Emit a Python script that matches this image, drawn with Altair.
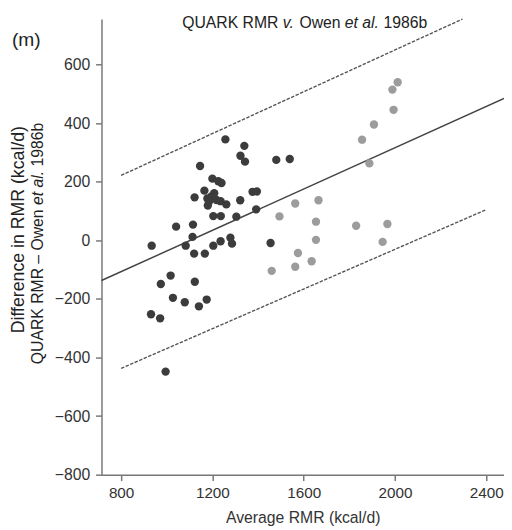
import altair as alt
import pandas as pd

FONT = "Liberation Sans"

# ---- data ----
dark_x = [1257, 1340, 1323, 1343, 1480, 1539, 1146, 1200, 1226, 1240, 1165, 1208, 1122,
          1178, 1197, 1185, 1180, 1218, 1236, 1261, 1322, 1376, 1395, 1392, 1204, 1237,
          1305, 1041, 1115, 1113, 934, 1083, 1204, 1236, 1279, 1286, 1455, 1120, 1167,
          1017, 974, 1123, 1027, 1079, 1141, 1175, 931, 971, 995]
dark_y = [345, 323, 289, 269, 275, 278, 254, 211, 202, 196, 170, 161, 147,
          143, 151, 132, 119, 138, 134, 123, 137, 166, 167, 106, 83, 83,
          81, 47, 54, 12, -18, -18, -18, -3, 9, -11, -9, -45, -45,
          -120, -149, -141, -196, -211, -225, -202, -252, -266, -448]
light_x = [1494, 1563, 1665, 1654, 1654, 1460, 1575, 1563, 1635, 1830, 1967, 1946,
           1888, 1856, 1908, 1994, 1989, 2012]
light_y = [82, 126, 137, 64, 2, -104, -43, -90, -71, 50, 56, -5,
           263, 344, 396, 446, 515, 540]

mean_line_x = [714, 2478]
mean_line_y = [-137, 485]
upper_line_x = [800, 2296]
upper_line_y = [222, 756]
lower_line_x = [800, 2400]
lower_line_y = [-437, 105]

x_ticks = [800, 1200, 1600, 2000, 2400]
y_ticks = [-800, -600, -400, -200, 0, 200, 400, 600]

pts = pd.DataFrame({
    "x": dark_x + light_x,
    "y": dark_y + light_y,
    "g": ["dark"] * len(dark_x) + ["light"] * len(light_x),
})
mean_df = pd.DataFrame({"x": mean_line_x, "y": mean_line_y})
lim_df = pd.DataFrame({
    "x": upper_line_x + lower_line_x,
    "y": upper_line_y + lower_line_y,
    "k": ["upper", "upper", "lower", "lower"],
})

xs = alt.Scale(domain=[714, 2478], nice=False, zero=False)
ys = alt.Scale(domain=[-800, 756], nice=False, zero=False)

xaxis = alt.Axis(values=x_ticks, format="d", title="Average RMR (kcal/d)", grid=False,
                 labelFont=FONT, labelFontSize=15.5, labelColor="#333",
                 titleFont=FONT, titleFontSize=16, titleFontWeight="normal", titleColor="#333",
                 domainColor="#777", domainWidth=1.5, tickColor="#777", tickWidth=1.5,
                 tickSize=6, labelPadding=5, titlePadding=9)
yaxis = alt.Axis(values=y_ticks, format="d", title=None, grid=False,
                 labelFont=FONT, labelFontSize=16, labelColor="#333",
                 domainColor="#777", domainWidth=1.5, tickColor="#777", tickWidth=1.5,
                 tickSize=6, labelPadding=6)

points = alt.Chart(pts).mark_circle(size=72, opacity=1).encode(
    x=alt.X("x:Q", scale=xs, axis=xaxis),
    y=alt.Y("y:Q", scale=ys, axis=yaxis),
    color=alt.Color("g:N", scale=alt.Scale(domain=["dark", "light"], range=["#3c3c3c", "#9c9c9c"]), legend=None),
)

mean_line = alt.Chart(mean_df).mark_line(color="#444", strokeWidth=1.5).encode(
    x=alt.X("x:Q", scale=xs), y=alt.Y("y:Q", scale=ys))

lim_lines = alt.Chart(lim_df).mark_line(color="#555", strokeWidth=1.4, strokeDash=[3.5, 1.5]).encode(
    x=alt.X("x:Q", scale=xs), y=alt.Y("y:Q", scale=ys), detail="k:N")

# text pieces (pixel positions relative to plot origin at page (103, 15))
OX, OY = 103, 15

def txt(s, px, py, size=16, style="normal", angle=0, align="left", baseline="alphabetic"):
    kw = dict(text=s, font=FONT, fontSize=size, fontStyle=style, color="#222",
              align=align, baseline=baseline)
    if angle:
        kw["angle"] = angle
    return alt.Chart(pd.DataFrame({"a": [0]})).mark_text(**kw).encode(
        x=alt.value(px - OX), y=alt.value(py - OY))

title_parts = [("QUARK RMR", "normal", 185.0), ("v.", "italic", 287.2),
               ("Owen", "normal", 304.1), ("et al.", "italic", 350.3),
               ("1986b", "normal", 389.5)]
texts = [txt(s, x, 24.5, style=st) for s, st, x in title_parts]

texts.append(txt("(m)", 12, 42, size=19.5))
texts.append(txt("Difference in RMR (kcal/d)", 24.5, 229, size=18, angle=270, align="center"))
ytitle2 = [("QUARK RMR \u2013 Owen", "normal", 365.7), ("et al.", "italic", 203.9),
           ("1986b", "normal", 164.8)]
for s, st, y in ytitle2:
    texts.append(txt(s, 43.5, y, style=st, angle=270))

chart = alt.layer(lim_lines, mean_line, points, *texts).properties(
    width=409, height=463,
    padding={"left": 95, "top": 7, "right": 0, "bottom": 52},
    autosize="none",
).configure_view(stroke=None)

chart.save("out.html", embed_options={"renderer": "svg", "actions": False})
